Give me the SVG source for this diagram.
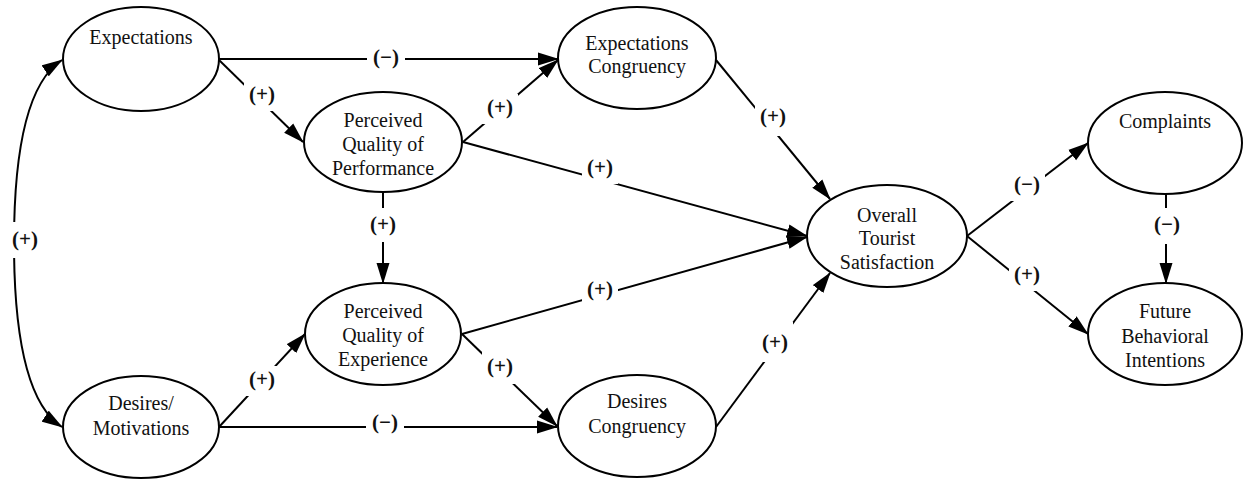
<svg xmlns="http://www.w3.org/2000/svg" width="1243" height="479" viewBox="0 0 1243 479">
<defs>
<marker id="arr" markerUnits="userSpaceOnUse" markerWidth="21" markerHeight="14" viewBox="0 0 21 14" refX="20" refY="7" orient="auto-start-reverse">
<path d="M0,0.5 L21,7 L0,13.5 z" fill="#000"/>
</marker>
</defs>
<rect width="1243" height="479" fill="#fff"/>
<g id="connectors" fill="none" stroke="#000" stroke-width="2">
<path d="M62,60 C28,82 14,150 14,243 C14,336 28,405 62,427" marker-start="url(#arr)" marker-end="url(#arr)"/>
<path d="M219,59 L558,59" marker-end="url(#arr)"/>
<path d="M219,60 L303,142" marker-end="url(#arr)"/>
<path d="M463,142 L558,60" marker-end="url(#arr)"/>
<path d="M463,142 L807,236" marker-end="url(#arr)"/>
<path d="M383,192 L383,283" marker-end="url(#arr)"/>
<path d="M219,427 L305,334" marker-end="url(#arr)"/>
<path d="M219,427 L557,427" marker-end="url(#arr)"/>
<path d="M462,334 L807,237" marker-end="url(#arr)"/>
<path d="M462,334 L557,426" marker-end="url(#arr)"/>
<path d="M716,60 L830,199" marker-end="url(#arr)"/>
<path d="M716,427 L830,273" marker-end="url(#arr)"/>
<path d="M967,236 L1088,143" marker-end="url(#arr)"/>
<path d="M967,236 L1088,334" marker-end="url(#arr)"/>
<path d="M1166,193 L1166,283" marker-end="url(#arr)"/>
</g>
<g id="labels">
<g fill="#fff">
<rect x="8" y="222" width="34" height="36"/>
<rect x="367" y="45" width="38" height="26"/>
<rect x="244" y="81" width="36" height="30"/>
<rect x="482" y="94" width="36" height="30"/>
<rect x="582" y="154" width="36" height="30"/>
<rect x="365" y="208" width="36" height="34"/>
<rect x="244" y="366" width="36" height="30"/>
<rect x="366" y="411" width="38" height="26"/>
<rect x="582" y="276" width="36" height="30"/>
<rect x="482" y="350" width="36" height="34"/>
<rect x="755" y="98" width="36" height="38"/>
<rect x="757" y="322" width="36" height="40"/>
<rect x="1009" y="171" width="36" height="30"/>
<rect x="1009" y="259" width="36" height="32"/>
<rect x="1149" y="208" width="36" height="36"/>
</g>
<text font-family="'Liberation Serif'" font-size="28" font-weight="bold" fill="#111" text-anchor="middle" transform="translate(25,246) scale(0.75)">(+)</text>
<text font-family="'Liberation Serif'" font-size="28" font-weight="bold" fill="#111" text-anchor="middle" transform="translate(386,64) scale(0.75)">(−)</text>
<text font-family="'Liberation Serif'" font-size="28" font-weight="bold" fill="#111" text-anchor="middle" transform="translate(262,101) scale(0.75)">(+)</text>
<text font-family="'Liberation Serif'" font-size="28" font-weight="bold" fill="#111" text-anchor="middle" transform="translate(500,114) scale(0.75)">(+)</text>
<text font-family="'Liberation Serif'" font-size="28" font-weight="bold" fill="#111" text-anchor="middle" transform="translate(600,174) scale(0.75)">(+)</text>
<text font-family="'Liberation Serif'" font-size="28" font-weight="bold" fill="#111" text-anchor="middle" transform="translate(383,231) scale(0.75)">(+)</text>
<text font-family="'Liberation Serif'" font-size="28" font-weight="bold" fill="#111" text-anchor="middle" transform="translate(262,386) scale(0.75)">(+)</text>
<text font-family="'Liberation Serif'" font-size="28" font-weight="bold" fill="#111" text-anchor="middle" transform="translate(385,429) scale(0.75)">(−)</text>
<text font-family="'Liberation Serif'" font-size="28" font-weight="bold" fill="#111" text-anchor="middle" transform="translate(600,296) scale(0.75)">(+)</text>
<text font-family="'Liberation Serif'" font-size="28" font-weight="bold" fill="#111" text-anchor="middle" transform="translate(500,373) scale(0.75)">(+)</text>
<text font-family="'Liberation Serif'" font-size="28" font-weight="bold" fill="#111" text-anchor="middle" transform="translate(773,123) scale(0.75)">(+)</text>
<text font-family="'Liberation Serif'" font-size="28" font-weight="bold" fill="#111" text-anchor="middle" transform="translate(775,349) scale(0.75)">(+)</text>
<text font-family="'Liberation Serif'" font-size="28" font-weight="bold" fill="#111" text-anchor="middle" transform="translate(1027,191) scale(0.75)">(−)</text>
<text font-family="'Liberation Serif'" font-size="28" font-weight="bold" fill="#111" text-anchor="middle" transform="translate(1027,281) scale(0.75)">(+)</text>
<text font-family="'Liberation Serif'" font-size="28" font-weight="bold" fill="#111" text-anchor="middle" transform="translate(1167,231) scale(0.75)">(−)</text>
</g>
<g id="expectations">
<ellipse cx="141" cy="59" rx="78" ry="52" fill="#fff" stroke="#000" stroke-width="2"/>
<text font-family="'Liberation Serif'" font-size="28" fill="#111" text-anchor="middle" transform="translate(141,44) scale(0.7143)">Expectations</text>
</g>
<g id="desires">
<ellipse cx="141" cy="427" rx="78" ry="51" fill="#fff" stroke="#000" stroke-width="2"/>
<text font-family="'Liberation Serif'" font-size="28" fill="#111" text-anchor="middle" transform="translate(141,410) scale(0.7143)">Desires/</text>
<text font-family="'Liberation Serif'" font-size="28" fill="#111" text-anchor="middle" transform="translate(141,435) scale(0.7143)">Motivations</text>
</g>
<g id="perf">
<ellipse cx="383" cy="142" rx="79" ry="50" fill="#fff" stroke="#000" stroke-width="2"/>
<text font-family="'Liberation Serif'" font-size="28" fill="#111" text-anchor="middle" transform="translate(383,127) scale(0.7143)">Perceived</text>
<text font-family="'Liberation Serif'" font-size="28" fill="#111" text-anchor="middle" transform="translate(383,151) scale(0.7143)">Quality of</text>
<text font-family="'Liberation Serif'" font-size="28" fill="#111" text-anchor="middle" transform="translate(383,175) scale(0.7143)">Performance</text>
</g>
<g id="exp">
<ellipse cx="383" cy="334" rx="78" ry="51" fill="#fff" stroke="#000" stroke-width="2"/>
<text font-family="'Liberation Serif'" font-size="28" fill="#111" text-anchor="middle" transform="translate(383,318) scale(0.7143)">Perceived</text>
<text font-family="'Liberation Serif'" font-size="28" fill="#111" text-anchor="middle" transform="translate(383,342) scale(0.7143)">Quality of</text>
<text font-family="'Liberation Serif'" font-size="28" fill="#111" text-anchor="middle" transform="translate(383,366) scale(0.7143)">Experience</text>
</g>
<g id="expcong">
<ellipse cx="637" cy="58" rx="79" ry="51" fill="#fff" stroke="#000" stroke-width="2"/>
<text font-family="'Liberation Serif'" font-size="28" fill="#111" text-anchor="middle" transform="translate(637,50) scale(0.7143)">Expectations</text>
<text font-family="'Liberation Serif'" font-size="28" fill="#111" text-anchor="middle" transform="translate(637,73) scale(0.7143)">Congruency</text>
</g>
<g id="descong">
<ellipse cx="637" cy="426" rx="79" ry="51" fill="#fff" stroke="#000" stroke-width="2"/>
<text font-family="'Liberation Serif'" font-size="28" fill="#111" text-anchor="middle" transform="translate(637,408) scale(0.7143)">Desires</text>
<text font-family="'Liberation Serif'" font-size="28" fill="#111" text-anchor="middle" transform="translate(637,433) scale(0.7143)">Congruency</text>
</g>
<g id="overall">
<ellipse cx="887" cy="236" rx="80" ry="51" fill="#fff" stroke="#000" stroke-width="2"/>
<text font-family="'Liberation Serif'" font-size="28" fill="#111" text-anchor="middle" transform="translate(887,222) scale(0.7143)">Overall</text>
<text font-family="'Liberation Serif'" font-size="28" fill="#111" text-anchor="middle" transform="translate(887,245) scale(0.7143)">Tourist</text>
<text font-family="'Liberation Serif'" font-size="28" fill="#111" text-anchor="middle" transform="translate(887,269) scale(0.7143)">Satisfaction</text>
</g>
<g id="complaints">
<ellipse cx="1165" cy="143" rx="77" ry="51" fill="#fff" stroke="#000" stroke-width="2"/>
<text font-family="'Liberation Serif'" font-size="28" fill="#111" text-anchor="middle" transform="translate(1165,128) scale(0.7143)">Complaints</text>
</g>
<g id="future">
<ellipse cx="1165" cy="334" rx="77" ry="51" fill="#fff" stroke="#000" stroke-width="2"/>
<text font-family="'Liberation Serif'" font-size="28" fill="#111" text-anchor="middle" transform="translate(1165,318) scale(0.7143)">Future</text>
<text font-family="'Liberation Serif'" font-size="28" fill="#111" text-anchor="middle" transform="translate(1165,343) scale(0.7143)">Behavioral</text>
<text font-family="'Liberation Serif'" font-size="28" fill="#111" text-anchor="middle" transform="translate(1165,367) scale(0.7143)">Intentions</text>
</g>
</svg>
